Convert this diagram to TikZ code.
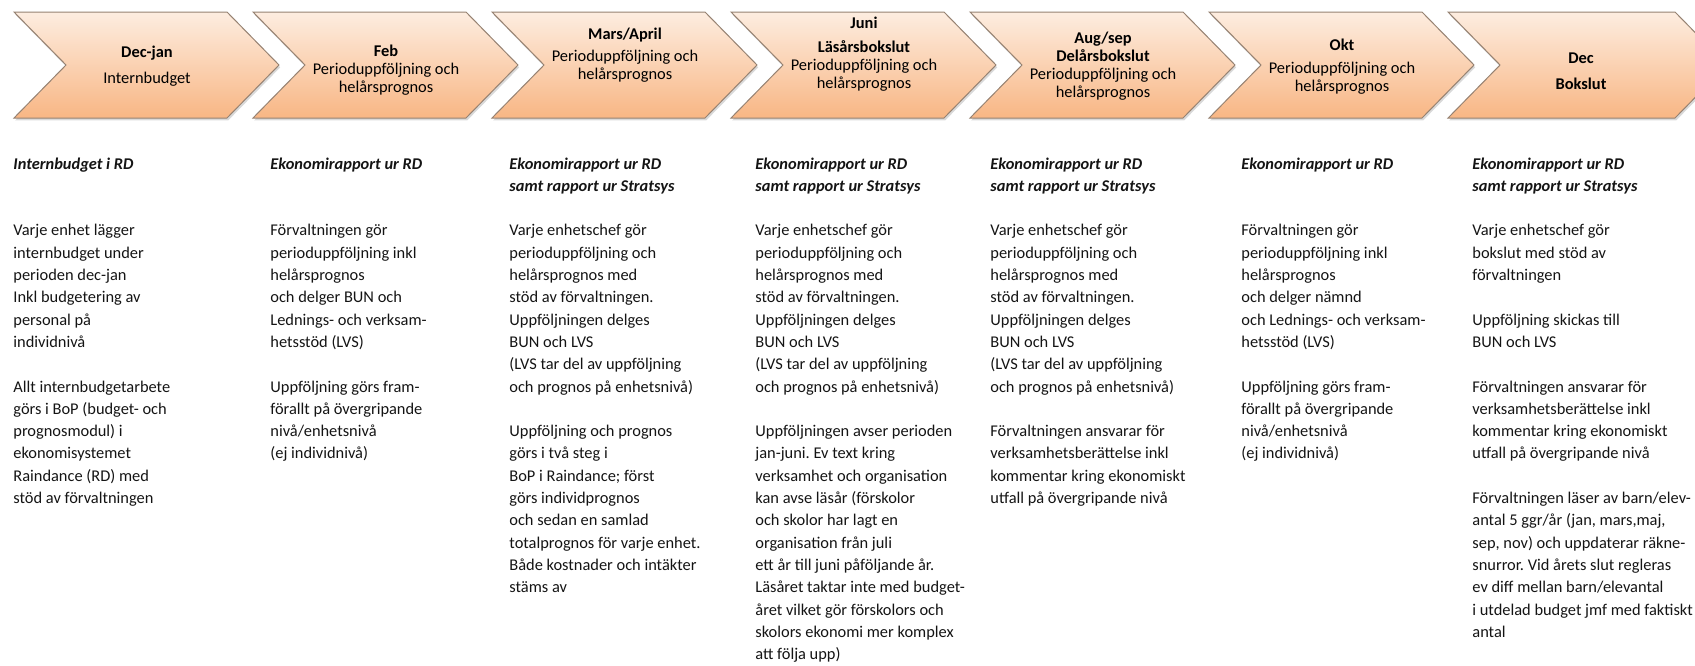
\documentclass[tikz,border=0pt]{standalone}
\usepackage{fontspec}
\setmainfont{Carlito}
\usepackage{tikz}
\usetikzlibrary{shadows}
\definecolor{chevtop}{RGB}{253,237,224}
\definecolor{chevbot}{RGB}{248,182,132}
\definecolor{chevline}{RGB}{150,130,114}
\definecolor{bodytext}{RGB}{20,20,20}
\frenchspacing

\begin{document}
\begin{tikzpicture}[x=0.5pt,y=-0.5pt,
    chev/.style={draw=chevline,line width=0.5pt,top color=chevtop,bottom color=chevbot,
        drop shadow={shadow xshift=0.6pt,shadow yshift=-1.2pt,opacity=0.3}},
    month/.style={align=center,inner sep=0pt,font=\fontsize{8.2}{9}\selectfont},
    report/.style={anchor=north west,align=left,inner sep=0pt,text=bodytext,font=\fontsize{8.2}{11.15}\selectfont}]
    \useasboundingbox (0,0) rectangle (1695,665);
    \clip (0,0) rectangle (1695,665);
    \path[chev] (14,12) -- (227,12) -- (279,65) -- (227,118) -- (14,118) -- (66,65) -- cycle;
    \path[chev] (253,12) -- (466,12) -- (518,65) -- (466,118) -- (253,118) -- (305,65) -- cycle;
    \path[chev] (492,12) -- (705,12) -- (757,65) -- (705,118) -- (492,118) -- (544,65) -- cycle;
    \path[chev] (731,12) -- (944,12) -- (996,65) -- (944,118) -- (731,118) -- (783,65) -- cycle;
    \path[chev] (970,12) -- (1183,12) -- (1235,65) -- (1183,118) -- (970,118) -- (1022,65) -- cycle;
    \path[chev] (1209,12) -- (1422,12) -- (1474,65) -- (1422,118) -- (1209,118) -- (1261,65) -- cycle;
    \path[chev] (1448,12) -- (1675,12) -- (1727,65) -- (1675,118) -- (1448,118) -- (1500,65) -- cycle;

    \node[month] (m1) at (147,66) {\textbf{Dec-jan}\\[4pt] Internbudget};
    \node[month] (m2) at (386,70) {\textbf{Feb}\\ Perioduppföljning och\\ helårsprognos};
    \node[month] (m3) at (625,55) {\textbf{Mars/April}\\[1.75pt] Perioduppföljning och\\ helårsprognos};
    \node[month] (m4) at (864,54) {\textbf{Juni}\\[3pt] \textbf{Läsårsbokslut}\\ Perioduppföljning och\\ helårsprognos};
    \node[month] (m5) at (1103,66) {\textbf{Aug/sep}\\ \textbf{Delårsbokslut}\\ Perioduppföljning och\\ helårsprognos};
    \node[month] (m6) at (1342,67) {\textbf{Okt}\\[2.5pt] Perioduppföljning och\\ helårsprognos};
    \node[month] (m7) at (1581,71) {\textbf{Dec}\\[4pt] \textbf{Bokslut}};

    \node[report] (r1) at (13,153) {\strut\textbf{\textit{Internbudget i RD}}\\[22.3pt]
        Varje enhet lägger\\ internbudget under\\ perioden dec-jan\\ Inkl budgetering av\\ personal på\\ individnivå\\[11.15pt]
        Allt internbudgetarbete\\ görs i BoP (budget- och\\ prognosmodul) i\\ ekonomisystemet\\ Raindance (RD) med\\ stöd av förvaltningen};
    \node[report] (r2) at (270,153) {\strut\textbf{\textit{Ekonomirapport ur RD}}\\[22.3pt]
        Förvaltningen gör\\ perioduppföljning inkl\\ helårsprognos\\ och delger BUN och\\ Lednings- och verksam-\\ hetsstöd (LVS)\\[11.15pt]
        Uppföljning görs fram-\\ förallt på övergripande\\ nivå/enhetsnivå\\ (ej individnivå)};
    \node[report] (r3) at (509,153) {\strut\textbf{\textit{Ekonomirapport ur RD}}\\ \textbf{\textit{samt rapport ur Stratsys}}\\[11.15pt]
        Varje enhetschef gör\\ perioduppföljning och\\ helårsprognos med\\ stöd av förvaltningen.\\ Uppföljningen delges\\ BUN och LVS\\ (LVS tar del av uppföljning\\ och prognos på enhetsnivå)\\[11.15pt]
        Uppföljning och prognos\\ görs i två steg i\\ BoP i Raindance; först\\ görs individprognos\\ och sedan en samlad\\ totalprognos för varje enhet.\\ Både kostnader och intäkter\\ stäms av};
    \node[report] (r4) at (755,153) {\strut\textbf{\textit{Ekonomirapport ur RD}}\\ \textbf{\textit{samt rapport ur Stratsys}}\\[11.15pt]
        Varje enhetschef gör\\ perioduppföljning och\\ helårsprognos med\\ stöd av förvaltningen.\\ Uppföljningen delges\\ BUN och LVS\\ (LVS tar del av uppföljning\\ och prognos på enhetsnivå)\\[11.15pt]
        Uppföljningen avser perioden\\ jan-juni. Ev text kring\\ verksamhet och organisation\\ kan avse läsår (förskolor\\ och skolor har lagt en\\ organisation från juli\\ ett år till juni påföljande år.\\ Läsåret taktar inte med budget-\\ året vilket gör förskolors och\\ skolors ekonomi mer komplex\\ att följa upp)};
    \node[report] (r5) at (990,153) {\strut\textbf{\textit{Ekonomirapport ur RD}}\\ \textbf{\textit{samt rapport ur Stratsys}}\\[11.15pt]
        Varje enhetschef gör\\ perioduppföljning och\\ helårsprognos med\\ stöd av förvaltningen.\\ Uppföljningen delges\\ BUN och LVS\\ (LVS tar del av uppföljning\\ och prognos på enhetsnivå)\\[11.15pt]
        Förvaltningen ansvarar för\\ verksamhetsberättelse inkl\\ kommentar kring ekonomiskt\\ utfall på övergripande nivå};
    \node[report] (r6) at (1241,153) {\strut\textbf{\textit{Ekonomirapport ur RD}}\\[22.3pt]
        Förvaltningen gör\\ perioduppföljning inkl\\ helårsprognos\\ och delger nämnd\\ och Lednings- och verksam-\\ hetsstöd (LVS)\\[11.15pt]
        Uppföljning görs fram-\\ förallt på övergripande\\ nivå/enhetsnivå\\ (ej individnivå)};
    \node[report] (r7) at (1472,153) {\strut\textbf{\textit{Ekonomirapport ur RD}}\\ \textbf{\textit{samt rapport ur Stratsys}}\\[11.15pt]
        Varje enhetschef gör\\ bokslut med stöd av\\ förvaltningen\\[11.15pt]
        Uppföljning skickas till\\ BUN och LVS\\[11.15pt]
        Förvaltningen ansvarar för\\ verksamhetsberättelse inkl\\ kommentar kring ekonomiskt\\ utfall på övergripande nivå\\[11.15pt]
        Förvaltningen läser av barn/elev-\\ antal 5 ggr/år (jan, mars,maj,\\ sep, nov) och uppdaterar räkne-\\ snurror. Vid årets slut regleras\\ ev diff mellan barn/elevantal\\ i utdelad budget jmf med faktiskt\\ antal};
\end{tikzpicture}
\end{document}
